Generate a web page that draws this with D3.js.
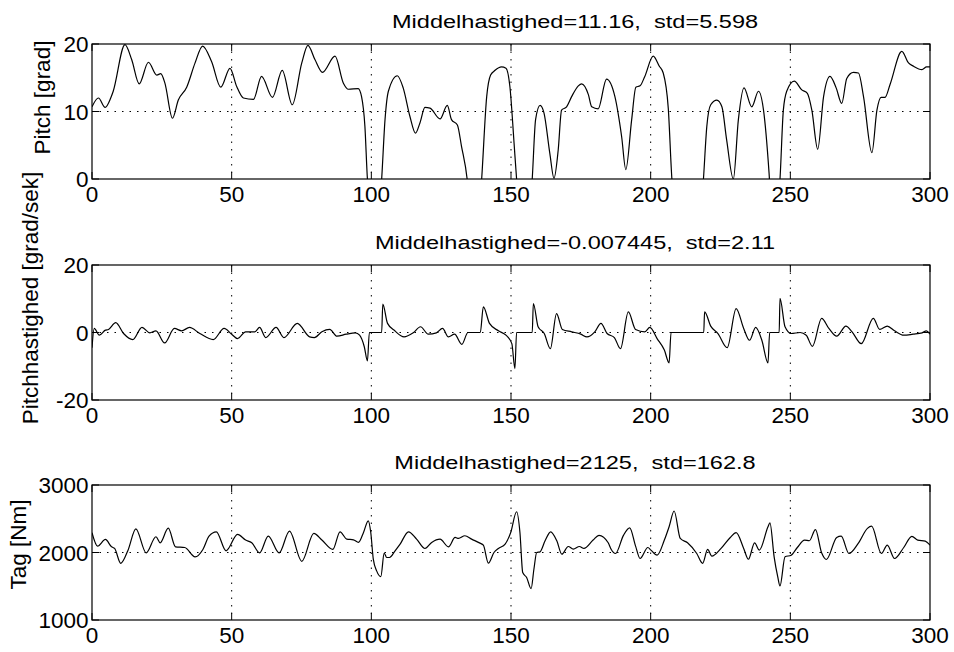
<!DOCTYPE html>
<html>
<head>
<meta charset="utf-8">
<script src="https://cdn.jsdelivr.net/npm/d3@7"></script>
<style>
  body { margin: 0; background: #fff; }
  text { font-family: "Liberation Sans", Arial, Helvetica, sans-serif; fill: #000; }
</style>
</head>
<body>
<div id="chart"></div>
<script>
// x values shared by all three panels
const xTicks = [0, 50, 100, 150, 200, 250, 300];

// Pitch [grad]
const pitchT = [0, 2.3, 4.7, 6.7, 7.6, 11.8, 14.2, 16.9, 20.2, 23.2, 24.6, 26.1, 28.8, 30.9, 33.9, 36.9, 39.6, 42.8, 46.1, 49.4,
  51.8, 54.2, 57.8, 60.7, 64.6, 68.1, 71.7, 75.1, 77.3, 79.8, 82.5, 87, 90, 91.8, 95.3, 96.5, 97.7, 98.6, 99.3, 103.2,
  103.7, 104.9, 106.1, 109.3, 111.4, 113.8, 115.8, 117.4, 119.2, 121, 124.6, 127.2, 128.7, 130.8, 132.3, 134.3, 135, 139, 139.5, 141.3,
  142.7, 144.3, 146.6, 148.2, 149.6, 151.1, 152, 152.6, 157.1, 157.6, 158.8, 160.4, 161.8, 163.9, 165.4, 166.9, 168.1, 169.9, 171.7, 174.1,
  175.3, 177.7, 178.9, 181.2, 184.2, 187.2, 189.6, 191.1, 193.2, 194.7, 196.2, 197.9, 200.9, 203.1, 204.5, 206.3, 207.6, 208.2, 218.4, 218.9,
  220.1, 221.5, 223.7, 225.5, 227.2, 229.6, 231.4, 233.4, 236.2, 238.6, 240.4, 242.4, 243, 245.8, 246.3, 247.5, 248.7, 251.4, 254.1, 256.1,
  257.7, 259.8, 261.9, 264.2, 266.4, 268.4, 270.2, 272.6, 274.4, 276.2, 279.2, 281, 282.5, 283.9, 285.7, 289.9, 292.3, 294.1, 297.1, 298.8, 300];
const pitchV = [10.7, 12.0, 10.6, 12.0, 13.0, 19.9, 17.7, 14.1, 17.3, 15.4, 15.6, 14.2, 9.0, 11.7, 13.6, 17.2, 19.7, 17.4, 13.6, 16.4,
  13.7, 12.0, 11.8, 15.2, 12.1, 16.1, 11.0, 17.2, 19.8, 17.7, 15.8, 18.2, 14.2, 13.3, 13.4, 12.2, 7.8, 0, -3, -3,
  0, 8.8, 13.0, 15.3, 13.5, 9.3, 6.8, 8.3, 10.6, 10.5, 8.9, 10.9, 8.8, 8.0, 4.8, 0, -3, -3, 0, 12.2,
  15.4, 16.1, 16.6, 16.4, 13.7, 5.3, 0, -3, -3, 0, 8.8, 10.9, 9.8, 3.8, 0.1, 4.3, 10.2, 10.7, 12.2, 13.8,
  14.1, 12.5, 10.7, 10.4, 14.8, 12.2, 6.3, 1.4, 8.8, 13.6, 13.8, 15.2, 18.2, 16.7, 15.7, 10.5, 0, -3, -3, 0,
  7.8, 11.0, 11.7, 10.7, 5.8, 0, 8.8, 13.5, 10.7, 13.0, 10.2, 0.8, -3, -3, 0, 10.2, 13.0, 14.5, 13.2, 12.7,
  10.2, 4.4, 12.2, 15.2, 13.5, 11.2, 14.9, 15.8, 15.7, 12.2, 3.9, 10.2, 12.1, 12.1, 14.0, 18.9, 17.2, 16.7, 16.2, 16.6, 16.6];

// Pitchhastighed [grad/sek]
const rateT = [0, 0.8, 2.6, 4.8, 5.9, 8.5, 11.3, 14.6, 17.9, 20.7, 22.9, 26, 29.5, 32.1, 34.9, 38.6, 43.4, 47.3, 50, 52.1,
  55, 58.3, 60, 62.2, 65.9, 68.7, 73.5, 77.9, 79.6, 82.3, 85.1, 87.7, 91, 94.3, 95.8, 97.5, 98.6, 99.3, 103.7, 104.1,
  105.8, 108.4, 111.7, 115, 117.6, 120.4, 123.3, 125.5, 127.6, 129.8, 132.4, 134.6, 139, 140.1, 142.3, 145.5, 148.2, 150.3, 151.4, 152,
  157.6, 158, 159.7, 161.9, 164.1, 166.3, 168.4, 171.7, 175, 177.2, 180, 182.2, 184.4, 187, 189.2, 192, 194.6, 197.9, 199.7, 202.3,
  204.9, 206.6, 207.3, 219, 219.3, 221.5, 224.1, 227.4, 230.6, 233.3, 235.4, 237.6, 239.8, 242, 242.6, 246, 246.3, 248.1, 250.3, 253.5,
  255.7, 257.9, 261.2, 263.8, 266.6, 269.9, 272.1, 275.4, 279.7, 282, 284.7, 287.3, 290.6, 293.9, 297.2, 298.7, 300];
const rateV = [-4.5, 1.2, -0.8, 0.7, 0.9, 2.9, -0.3, -2.1, 1.5, -0.1, 0.5, -3.1, 1.2, 0.5, 1.5, -0.3, -2.1, 1.2, -0.5, -1.8,
  0.2, 0.2, 1.5, -1.5, 1.5, -1.5, 2.7, -1.3, -1.5, 0.2, 0.9, -1.1, -0.5, -0.1, -0.8, -4.3, -8.4, 0, 0, 8.4,
  2.7, 0.5, -1.3, -0.1, 1.7, -0.5, -0.1, 1.2, -1.3, -0.5, -3.5, 0, 0, 7.6, 2.7, 0.5, -0.8, -3.3, -10.7, 0,
  0, 8.6, 1.7, -0.3, -4.8, 5.6, 0.9, 0.2, -0.5, -1.3, 0.2, 2.7, -0.3, -1.5, -4.8, 6.1, 0.9, 0.2, 1.5, -1.8,
  -5.2, -9.0, 0, 0, 6.1, 1.9, -0.3, -4.5, 7.1, 1.2, -2.3, 1.5, -2.3, -9.0, 0, 0, 10.1, 1.7, -0.3, 0,
  -0.8, -4.1, 4.2, 1.2, -1.1, 1.9, 0.2, -3.3, 4.2, 0.9, 1.9, 0.5, -0.8, -0.5, -0.1, 0.5, -0.5];

// Tag [Nm]
const torqueT = [0, 2, 4.8, 7, 8.1, 10.3, 12.9, 15.7, 19.4, 22.9, 24.4, 27.3, 29.9, 33.2, 36.9, 39.7, 41.9, 44.5, 48, 52.1,
  55, 57.2, 60, 63.1, 67, 70.7, 75.1, 79.4, 82.3, 86.2, 88.8, 91.2, 93.6, 95.4, 97.2, 98.9, 99.8, 100.7, 101.9, 103.4,
  104.6, 105.5, 106.5, 108.5, 110.3, 113.3, 116.2, 119.2, 121.6, 124.6, 127.6, 130, 131.2, 133.5, 135.9, 138.9, 140.1, 141.9, 143.9, 145.5,
  147.9, 149.9, 152, 153.2, 154.2, 155.6, 157.2, 158.2, 159.2, 160.4, 162.2, 164.2, 166.4, 168.2, 170.5, 172.3, 174.5, 176.1, 179.4, 181.5,
  184.8, 185.9, 187.4, 190.3, 192.5, 194.6, 196.2, 199, 200.1, 202.3, 204.9, 206.6, 208.4, 210.6, 213.2, 216.5, 218.6, 220.4, 221.9, 225.2,
  228.5, 230.6, 233.3, 235, 237.2, 238.9, 242, 242.7, 244.2, 245.5, 246.3, 248.1, 250.3, 252.5, 255.1, 256.8, 259, 261.2, 262.9, 266.6,
  268.2, 271, 274.3, 277.6, 279.1, 282.6, 284.7, 287.3, 290.6, 293.5, 295.6, 298.3, 300];
const torqueV = [2293, 2094, 2193, 2084, 2060, 1840, 2035, 2350, 1995, 2233, 2144, 2360, 2084, 2074, 1935, 2045, 2243, 2307, 2025, 2268,
  2184, 2144, 1995, 2243, 1995, 2317, 1870, 2283, 2184, 2045, 2307, 2198, 2188, 2149, 2297, 2470, 2297, 1901, 1728, 1644,
  1990, 1926, 1926, 2025, 2124, 2307, 2198, 2059, 2149, 2198, 2084, 2223, 2208, 2248, 2198, 2139, 2109, 1842, 2000, 2059,
  2124, 2297, 2604, 2297, 1703, 1629, 1465, 1752, 2000, 2010, 2173, 2307, 2173, 1975, 2089, 2050, 2089, 2060, 2184, 2255,
  2144, 2045, 1985, 2258, 2365, 2094, 1911, 2074, 2035, 1960, 2184, 2382, 2615, 2208, 2144, 1985, 1840, 2045, 1945, 2060,
  2223, 2293, 2060, 1900, 2144, 2035, 2382, 2440, 1936, 1638, 1505, 1936, 1960, 2074, 2184, 2174, 2340, 1995, 1896, 2223,
  2243, 1985, 2134, 2357, 2390, 1985, 2109, 1911, 2074, 2240, 2184, 2169, 2109];

const titles = ["Middelhastighed=11.16,  std=5.598", "Middelhastighed=-0.007445,  std=2.11", "Middelhastighed=2125,  std=162.8"];
const yLabels = ["Pitch [grad]", "Pitchhastighed [grad/sek]", "Tag [Nm]"];
const yDomains = [[0, 20], [-20, 20], [1000, 3000]];
const yTickVals = [[0, 10, 20], [-20, 0, 20], [1000, 2000, 3000]];
const yGridVals = [[10], [0], [2000]];

const W = 954, H = 652;
const left = 92, right = 930;
const panelH = 135;
const panels = [
  {top: 44, t: pitchT, v: pitchV, labX: 49.5, labY: 97.5},
  {top: 265, t: rateT, v: rateV, labX: 38, labY: 298},
  {top: 485, t: torqueT, v: torqueV, labX: 26, labY: 544.5}
];

const svg = d3.select("#chart").append("svg")
  .attr("width", W)
  .attr("height", H);

const x = d3.scaleLinear().domain([0, 300]).range([left, right]);
const tickLen = 7;

panels.forEach((p, i) => {
  const bottom = p.top + panelH;
  const y = d3.scaleLinear().domain(yDomains[i]).range([bottom, p.top]);
  const g = svg.append("g");

  g.append("clipPath").attr("id", "clip" + i)
    .append("rect")
    .attr("x", left).attr("y", p.top)
    .attr("width", right - left).attr("height", panelH);

  // dotted grid
  g.selectAll(".vgrid").data(xTicks.slice(1, -1)).enter().append("line")
    .attr("x1", d => x(d)).attr("x2", d => x(d))
    .attr("y1", p.top).attr("y2", bottom)
    .attr("stroke", "#000").attr("stroke-width", 1)
    .attr("stroke-dasharray", "1.5,6");
  g.selectAll(".hgrid").data(yGridVals[i]).enter().append("line")
    .attr("x1", left).attr("x2", right)
    .attr("y1", d => y(d)).attr("y2", d => y(d))
    .attr("stroke", "#000").attr("stroke-width", 1)
    .attr("stroke-dasharray", "1.5,6");

  // data line
  const pts = p.t.map((t, k) => [t, p.v[k]]);
  g.append("path")
    .datum(pts)
    .attr("clip-path", "url(#clip" + i + ")")
    .attr("fill", "none")
    .attr("stroke", "#000")
    .attr("stroke-width", 1.2)
    .attr("d", d3.line()
      .x(d => x(d[0]))
      .y(d => y(d[1]))
      .curve(d3.curveMonotoneX));

  // box
  g.append("rect")
    .attr("x", left).attr("y", p.top)
    .attr("width", right - left).attr("height", panelH)
    .attr("fill", "none").attr("stroke", "#000").attr("stroke-width", 1.2);

  // inward ticks on all sides
  xTicks.forEach(t => {
    g.append("line").attr("x1", x(t)).attr("x2", x(t)).attr("y1", bottom).attr("y2", bottom - tickLen).attr("stroke", "#000");
    g.append("line").attr("x1", x(t)).attr("x2", x(t)).attr("y1", p.top).attr("y2", p.top + tickLen).attr("stroke", "#000");
  });
  yTickVals[i].forEach(v => {
    g.append("line").attr("x1", left).attr("x2", left + tickLen).attr("y1", y(v)).attr("y2", y(v)).attr("stroke", "#000");
    g.append("line").attr("x1", right).attr("x2", right - tickLen).attr("y1", y(v)).attr("y2", y(v)).attr("stroke", "#000");
  });

  // tick labels
  g.selectAll(".xl").data(xTicks).enter().append("text")
    .attr("x", d => x(d)).attr("y", bottom + 23)
    .attr("text-anchor", "middle")
    .style("font-size", "22.5px")
    .text(d => d);
  g.selectAll(".yl").data(yTickVals[i]).enter().append("text")
    .attr("x", left - 3.5).attr("y", d => y(d) + 8)
    .attr("text-anchor", "end")
    .style("font-size", "22.5px")
    .text(d => d);

  // title, stretched horizontally like the original
  g.append("text")
    .attr("transform", "translate(575," + (p.top - 16) + ") scale(1.24,1)")
    .attr("text-anchor", "middle")
    .style("font-size", "19px")
    .style("white-space", "pre")
    .text(titles[i]);

  // y label
  g.append("text")
    .attr("transform", "translate(" + p.labX + "," + p.labY + ") rotate(-90)")
    .attr("text-anchor", "middle")
    .style("font-size", "22.5px")
    .text(yLabels[i]);
});
</script>
</body>
</html>
